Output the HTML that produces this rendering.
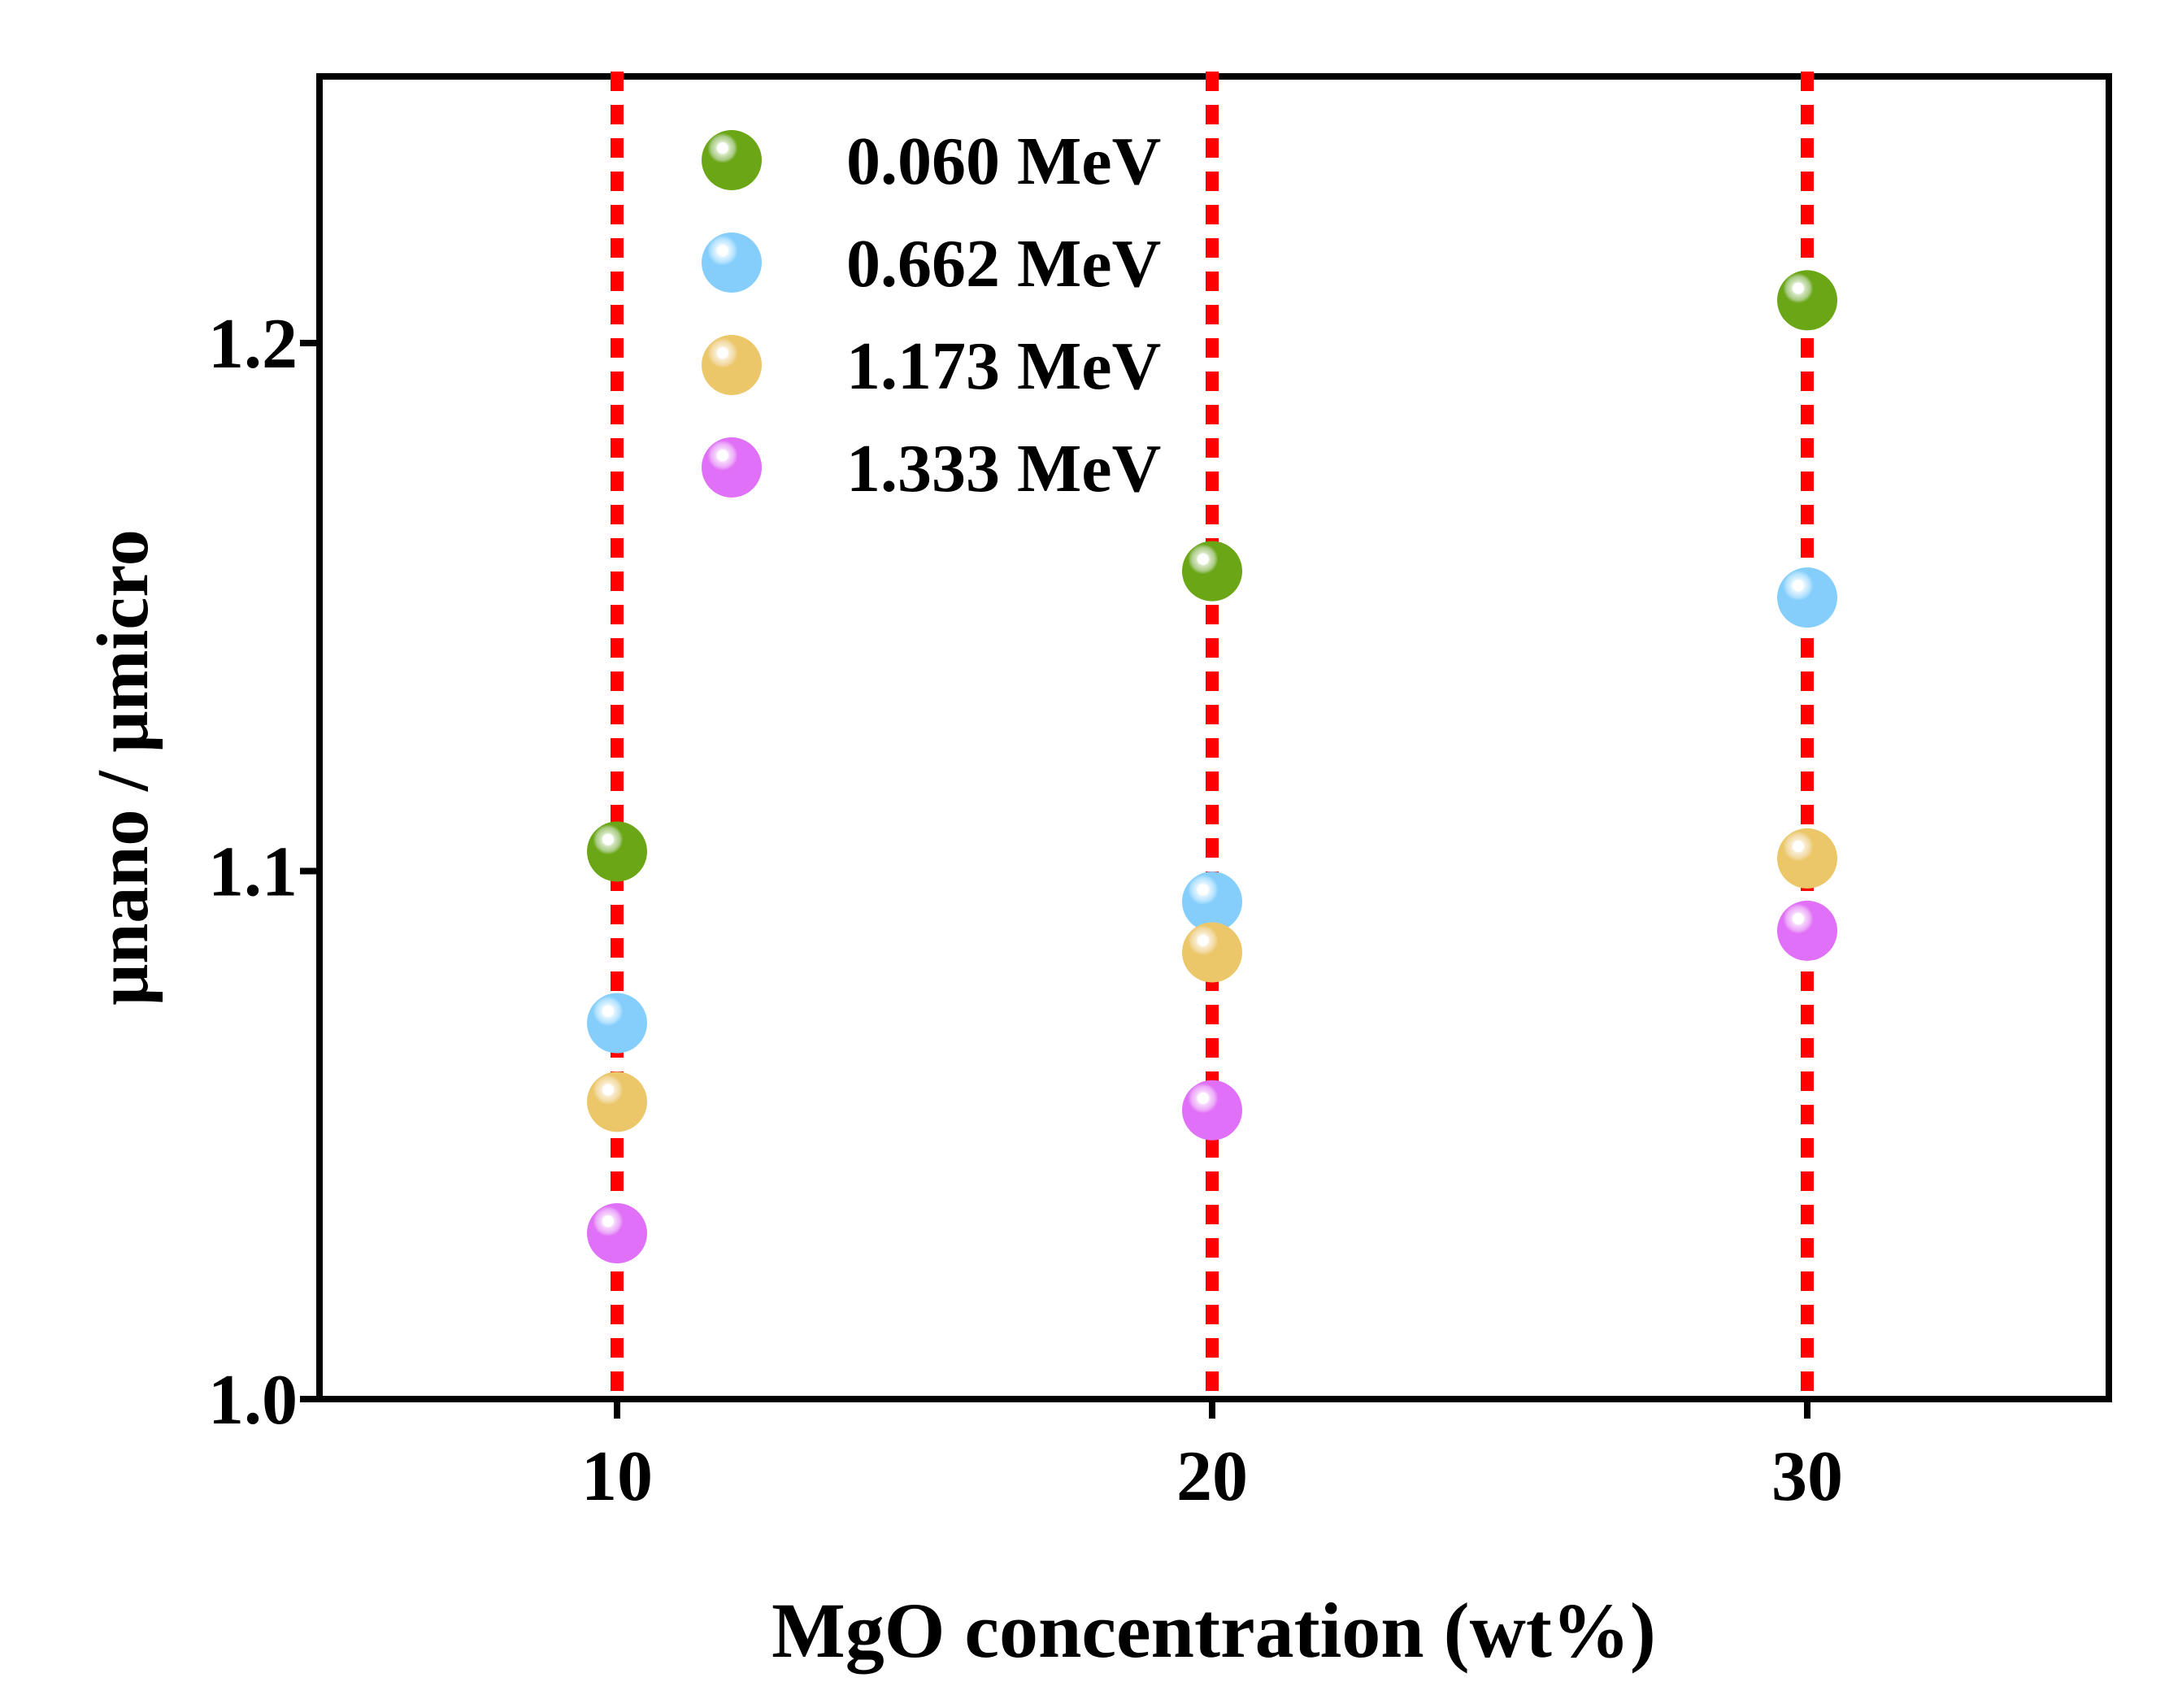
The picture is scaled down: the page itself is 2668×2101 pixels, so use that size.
<!DOCTYPE html>
<html><head><meta charset="utf-8"><style>
html,body{margin:0;padding:0;background:#fff;}
svg{display:block;}
text{font-family:"Liberation Serif","DejaVu Serif",serif;font-weight:bold;fill:#000;}
</style></head><body>
<svg id="chart" width="2668" height="2101" viewBox="0 0 2668 2101" xmlns="http://www.w3.org/2000/svg">
<defs>
<radialGradient id="g0" cx="0.35" cy="0.3" r="0.7"><stop offset="0" stop-color="#fff"/><stop offset="0.12" stop-color="#fff"/><stop offset="0.16" stop-color="#d4e6c0"/><stop offset="0.28" stop-color="#a9cb85"/><stop offset="0.36" stop-color="#6aa616"/><stop offset="1" stop-color="#6aa616"/></radialGradient>
<radialGradient id="g1" cx="0.35" cy="0.3" r="0.7"><stop offset="0" stop-color="#fff"/><stop offset="0.12" stop-color="#fff"/><stop offset="0.16" stop-color="#e0f3ff"/><stop offset="0.28" stop-color="#b3e2ff"/><stop offset="0.36" stop-color="#85cefc"/><stop offset="1" stop-color="#85cefc"/></radialGradient>
<radialGradient id="g2" cx="0.35" cy="0.3" r="0.7"><stop offset="0" stop-color="#fff"/><stop offset="0.12" stop-color="#fff"/><stop offset="0.16" stop-color="#f8ecd0"/><stop offset="0.28" stop-color="#f2d9a0"/><stop offset="0.36" stop-color="#ebc76a"/><stop offset="1" stop-color="#ebc76a"/></radialGradient>
<radialGradient id="g3" cx="0.35" cy="0.3" r="0.7"><stop offset="0" stop-color="#fff"/><stop offset="0.12" stop-color="#fff"/><stop offset="0.16" stop-color="#f6d6fc"/><stop offset="0.28" stop-color="#ecaaf9"/><stop offset="0.36" stop-color="#e070f7"/><stop offset="1" stop-color="#e070f7"/></radialGradient>
</defs>
<g id="plot"></g>
</svg>
<script>
const categories = [10, 20, 30];
const seriesNames = ["0.060 MeV", "0.662 MeV", "1.173 MeV", "1.333 MeV"];
const s060 = [1.1037, 1.1568, 1.2081];
const s662 = [1.0712, 1.0942, 1.1518];
const s1173 = [1.0563, 1.0846, 1.1024];
const s1333 = [1.0314, 1.0547, 1.0887];
const yTicks = [1.0, 1.1, 1.2];
const yTickLabels = ["1.0", "1.1", "1.2"];
const xTickLabels = ["10", "20", "30"];

const NS = "http://www.w3.org/2000/svg";
const L = 393, R = 2594, T = 94, B = 1721;
function xs(v){ return 759 + (v - 10) * (2223 - 759) / 20; }
function ys(v){ return 1721 - (v - 1.0) * (1721 - 422) / 0.2; }
const g = document.getElementById('plot');
function mk(tag, attrs, parent){
  const e = document.createElementNS(NS, tag);
  for (const k in attrs) e.setAttribute(k, attrs[k]);
  (parent || g).appendChild(e);
  return e;
}
let frame = mk('rect', {x:L, y:T, width:R-L, height:B-T, fill:'none', stroke:'#000', 'stroke-width':8});


yTicks.forEach((v, i) => {
  const t = mk('line', {x1:L-24, x2:L, y1:ys(v), y2:ys(v), stroke:'#000', 'stroke-width':8});
  
  
  const tx = mk('text', {x:366, y:ys(v)+30, 'text-anchor':'end', 'font-size':88});
  tx.textContent = yTickLabels[i];
  
  
});
categories.forEach((c, i) => {
  const t = mk('line', {x1:xs(c), x2:xs(c), y1:B, y2:B+24, stroke:'#000', 'stroke-width':8});
  
  
  const tx = mk('text', {x:xs(c), y:1845, 'text-anchor':'middle', 'font-size':88});
  tx.textContent = xTickLabels[i];
  
  
  const dl = mk('line', {x1:xs(c), x2:xs(c), y1:88, y2:B-4, stroke:'#ff0000', 'stroke-width':16, 'stroke-dasharray':'24 17'});
  
  
});
const allSeries = [s060, s662, s1173, s1333];
allSeries.forEach((s, si) => {
  s.forEach((v, i) => {
    const c = mk('circle', {cx:xs(categories[i]), cy:ys(v), r:37, fill:'url(#g'+si+')'});
    
    
  });
});
seriesNames.forEach((n, si) => {
  const y = 197 + si * 126;
  const c = mk('circle', {cx:900, cy:y, r:37, fill:'url(#g'+si+')'});
  
  
  const tx = mk('text', {x:1041, y:y+29, 'font-size':84});
  tx.textContent = n;
  
  
});
const xt = mk('text', {x:1493, y:2038, 'text-anchor':'middle', 'font-size':96});
xt.textContent = 'MgO concentration (wt%)';


const yt = mk('text', {x:0, y:0, 'text-anchor':'middle', 'font-size':90, transform:'translate(181,944) rotate(-90)'});
yt.textContent = 'μnano / μmicro';


</script>
</body></html>
